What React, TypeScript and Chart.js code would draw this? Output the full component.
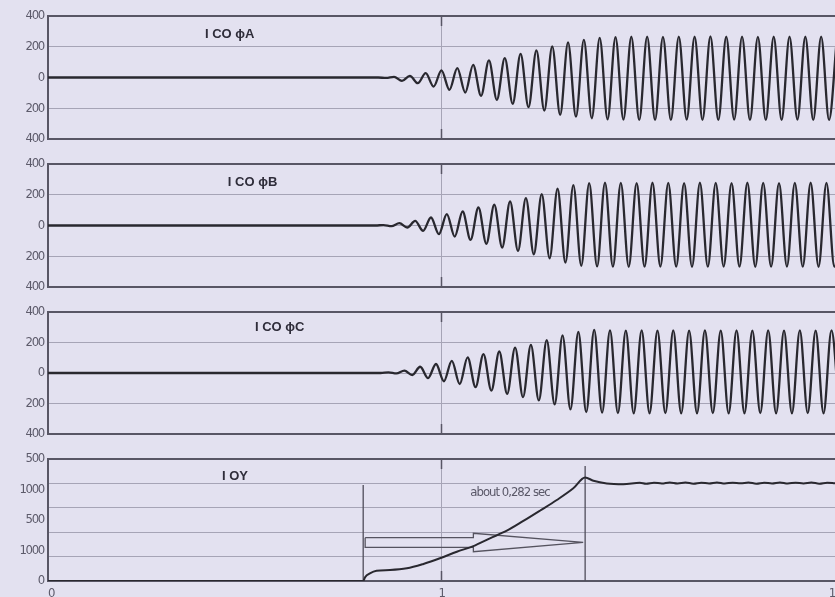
import React, { useEffect, useRef } from "react";
import { Chart, registerables } from "chart.js";

Chart.register(...registerables);

// ---------- data ----------
const HALF_PERIOD = 0.0201; // time between successive extrema of the waveforms
const X_TICK_LABELS = ["0", "1", "1"];
const PHASE_Y_TICK_LABELS: Record<string, string> = { "-400": "400", "-200": "200", "0": "0", "200": "200", "400": "400" };
const IOY_Y_TICK_LABELS = ["0", "1000", "500", "1000", "500"]; // bottom to top

const TITLES = ["I CO ϕA", "I CO ϕB", "I CO ϕC", "I OY"];
const TITLE_POS_T = [0.399, 0.457, 0.526, 0.442];
const TITLE_POS_V = [283, 278, 296, 861];

// extrema (alternating peaks / troughs) of the three phase currents
const PHASE_A_START = 0.8593;
const PHASE_A = [
  -3, 4, -22, 11, -37, 28, -59, 46, -80, 61, -98, 82, -119, 111, -145, 126, -171, 154, -193, 176,
  -215, 202, -243, 228, -255, 245, -265, 258, -272, 263, -274,
  265, -276, 266, -275, 264, -276, 266, -274, 265, -275, 267, -276, 265, -274, 266, -275, 264, -276,
  265, -275, 266, -274, 265, -276, 266, -275, 265,
];
const PHASE_B_START = 0.8527;
const PHASE_B = [
  3, -4, 15, -13, 30, -35, 52, -56, 74, -72, 91, -93, 117, -119, 135, -143, 156, -165, 178, -187,
  204, -213, 239, -241, 262, -262, 276, -266, 279,
  -268, 277, -269, 276, -268, 278, -267, 277, -268, 276, -269, 278, -268, 277, -267, 276, -268, 278,
  -269, 277, -268, 276, -267, 277, -268, 278, -269, 277, -268, 276,
];
const PHASE_C_START = 0.8654;
const PHASE_C = [
  4, -3, 15, -13, 41, -33, 59, -54, 80, -72, 102, -93, 124, -115, 141, -137, 167, -158, 184, -180,
  215, -206, 247, -239, 269, -256, 283, -260,
  280, -263, 278, -265, 279, -264, 278, -263, 280, -265, 278, -264, 279, -263, 278, -265, 280, -264,
  278, -263, 279, -265, 278, -264, 280, -263, 278, -265, 279, -264,
];

// I OY curve
const IOY_T = [
  0, 0.801, 0.806, 0.818, 0.835, 0.869, 0.912, 0.954, 0.996, 1.039, 1.081, 1.123, 1.166, 1.208,
  1.25, 1.293, 1.335, 1.365, 1.386, 1.42, 1.462, 1.504, 1.52, 1.54, 1.56, 1.58, 1.6, 1.62, 1.64,
  1.66, 1.68, 1.7, 1.72, 1.74, 1.76, 1.78, 1.8, 1.82, 1.84, 1.86, 1.88, 1.9, 1.92, 1.94, 1.96,
  1.98, 2.0,
];
const IOY_V = [
  0, 0, 32, 62, 84, 90, 104, 140, 186, 240, 286, 350, 412, 492, 576, 664, 760, 848, 822, 800, 794,
  806, 798, 806, 799, 808, 800, 807, 798, 806, 800, 808, 799, 806, 801, 807, 798, 806, 800, 808,
  799, 806, 800, 807, 798, 806, 801,
];

// annotation marks in the I OY panel
const MARK_LEFT_T = [0.801, 0.801];
const MARK_LEFT_V = [0, 787];
const MARK_RIGHT_T = [1.365, 1.365];
const MARK_RIGHT_V = [0, 943];
const ARROW_T = [0.806, 1.081, 1.081, 1.36, 1.081, 1.081, 0.806, 0.806];
const ARROW_V = [355, 355, 391, 317, 240, 276, 276, 355];
const NOTE_TEXT = "about 0,282 sec";
const NOTE_T = 1.174;
const NOTE_V = 721;

// ---------- styles ----------
const BG = "#e3e1f0";
const FRAME = "#585665";
const GRID = "#a6a4b6";
const LINE = "#29282f";
const TICK = "#5d5b6b";
const NARROW = '"Liberation Sans Narrow", "DejaVu Sans Condensed", "Roboto Condensed", "Liberation Sans", sans-serif';
const TITLE_FONT = 'bold 13px "Liberation Sans", Arial, sans-serif';

const W = 835;

function extremaSeries(start: number, values: number[]) {
  const pts = [{ x: 0, y: 0 }, { x: start - HALF_PERIOD, y: 0 }];
  values.forEach((v, i) => pts.push({ x: start + i * HALF_PERIOD, y: v }));
  return pts;
}

function zip(ts: number[], vs: number[]) {
  return ts.map((t, i) => ({ x: t, y: vs[i] }));
}

const framePlugin = {
  id: "frame",
  beforeDraw(chart: any) {
    chart.ctx.letterSpacing = "-1.3px";
  },
  afterDatasetsDraw(chart: any, _args: any, opts: any) {
    const { ctx, chartArea } = chart;
    const { left, right, top, bottom } = chartArea;
    const x = chart.scales.x;
    const y = chart.scales.y;
    ctx.save();
    ctx.strokeStyle = FRAME;
    ctx.lineWidth = 2;
    ctx.beginPath();
    ctx.moveTo(left - 1, top);
    ctx.lineTo(right, top);
    ctx.stroke();
    const px = x.getPixelForValue(1);
    ctx.lineWidth = 1.5;
    ctx.beginPath();
    ctx.moveTo(px, top);
    ctx.lineTo(px, top + 10);
    ctx.moveTo(px, bottom);
    ctx.lineTo(px, bottom - 10);
    ctx.stroke();
    for (const t of opts.texts || []) {
      ctx.font = t.font;
      ctx.fillStyle = t.color;
      ctx.letterSpacing = t.spacing || "0px";
      ctx.textAlign = t.align || "left";
      ctx.textBaseline = "middle";
      ctx.fillText(t.text, x.getPixelForValue(t.t), y.getPixelForValue(t.v));
    }
    ctx.restore();
  },
  afterDraw(chart: any) {
    chart.ctx.letterSpacing = "0px";
  },
};

function baseX(showTicks: boolean) {
  return {
    type: "linear",
    min: 0,
    max: 2,
    afterFit: (s: any) => {
      s.height = showTicks ? 16 : 0;
      s.paddingLeft = 0;
      s.paddingRight = 0;
    },
    ticks: {
      display: showTicks,
      stepSize: 1,
      align: "inner",
      autoSkip: false,
      maxRotation: 0,
      padding: 5,
      color: TICK,
      font: { family: NARROW, size: 13 },
      callback: (v: number) => X_TICK_LABELS[Math.round(v)],
    },
    grid: {
      drawTicks: false,
      lineWidth: 1,
      color: (c: any) => (c.tick && c.tick.value === 1 ? GRID : "rgba(0,0,0,0)"),
    },
    border: { display: true, color: FRAME, width: 2 },
  };
}

function phaseConfig(idx: number, start: number, values: number[]) {
  return {
    type: "line",
    data: {
      datasets: [
        {
          data: extremaSeries(start, values),
          borderColor: LINE,
          borderWidth: 2.3,
          pointRadius: 0,
          cubicInterpolationMode: "monotone",
          fill: false,
        },
      ],
    },
    plugins: [framePlugin],
    options: {
      responsive: false,
      animation: false,
      devicePixelRatio: 1,
      layout: { padding: { top: 12, bottom: 12, left: 0, right: 0 } },
      plugins: {
        legend: { display: false },
        tooltip: { enabled: false },
        frame: {
          texts: [
            { text: TITLES[idx], t: TITLE_POS_T[idx], v: TITLE_POS_V[idx], font: TITLE_FONT, color: "#2f2d3a" },
          ],
        },
      },
      scales: {
        x: baseX(false),
        y: {
          min: -400,
          max: 400,
          afterFit: (s: any) => {
            s.width = 48;
          },
          ticks: {
            stepSize: 200,
            autoSkip: false,
            padding: 4,
            color: TICK,
            font: { family: NARROW, size: 13 },
            callback: (v: number) => PHASE_Y_TICK_LABELS[String(v)],
          },
          grid: { drawTicks: false, color: GRID, lineWidth: 1 },
          border: { display: true, color: FRAME, width: 2 },
        },
      },
    },
  };
}

function ioyConfig() {
  const markStyle = { borderColor: "#4f4d5a", borderWidth: 1.3, pointRadius: 0, tension: 0, fill: false };
  return {
    type: "line",
    data: {
      datasets: [
        {
          data: zip(IOY_T, IOY_V),
          borderColor: LINE,
          borderWidth: 2,
          pointRadius: 0,
          cubicInterpolationMode: "monotone",
          fill: false,
        },
        { data: zip(MARK_LEFT_T, MARK_LEFT_V), ...markStyle },
        { data: zip(MARK_RIGHT_T, MARK_RIGHT_V), ...markStyle },
        { data: zip(ARROW_T, ARROW_V), ...markStyle, borderColor: "#55535f" },
      ],
    },
    plugins: [framePlugin],
    options: {
      responsive: false,
      animation: false,
      devicePixelRatio: 1,
      layout: { padding: { top: 12, bottom: 0, left: 0, right: 0 } },
      plugins: {
        legend: { display: false },
        tooltip: { enabled: false },
        frame: {
          texts: [
            { text: TITLES[3], t: TITLE_POS_T[3], v: TITLE_POS_V[3], font: TITLE_FONT, color: "#2f2d3a" },
            {
              text: NOTE_TEXT,
              t: NOTE_T,
              v: NOTE_V,
              font: `13px ${NARROW}`,
              color: "#5a5868",
              align: "center",
              spacing: "-1px",
            },
          ],
        },
      },
      scales: {
        x: baseX(true),
        y: {
          min: 0,
          max: 1000,
          afterFit: (s: any) => {
            s.width = 48;
          },
          ticks: {
            stepSize: 50,
            autoSkip: false,
            padding: 4,
            color: TICK,
            font: { family: NARROW, size: 13 },
            callback: (v: number) => (v % 250 === 0 ? IOY_Y_TICK_LABELS[v / 250] : ""),
          },
          grid: {
            drawTicks: false,
            lineWidth: 1,
            color: (c: any) => (c.tick && c.tick.value % 200 === 0 ? GRID : "rgba(0,0,0,0)"),
          },
          border: { display: true, color: FRAME, width: 2 },
        },
      },
    },
  };
}

function Panel({ top, height, make }: { top: number; height: number; make: () => any }) {
  const ref = useRef<HTMLCanvasElement>(null);
  useEffect(() => {
    const chart = new Chart(ref.current as HTMLCanvasElement, make());
    return () => chart.destroy();
  }, []);
  return (
    <canvas
      ref={ref}
      width={W}
      height={height}
      style={{ position: "absolute", left: 0, top, width: W, height }}
    />
  );
}

export default function App() {
  return (
    <div
      style={{
        position: "fixed",
        left: 0,
        top: 0,
        width: W,
        height: 597,
        background: BG,
        overflow: "hidden",
      }}
    >
      <Panel top={4} height={147} make={() => phaseConfig(0, PHASE_A_START, PHASE_A)} />
      <Panel top={152} height={147} make={() => phaseConfig(1, PHASE_B_START, PHASE_B)} />
      <Panel top={300} height={146} make={() => phaseConfig(2, PHASE_C_START, PHASE_C)} />
      <Panel top={447} height={150} make={ioyConfig} />
    </div>
  );
}
